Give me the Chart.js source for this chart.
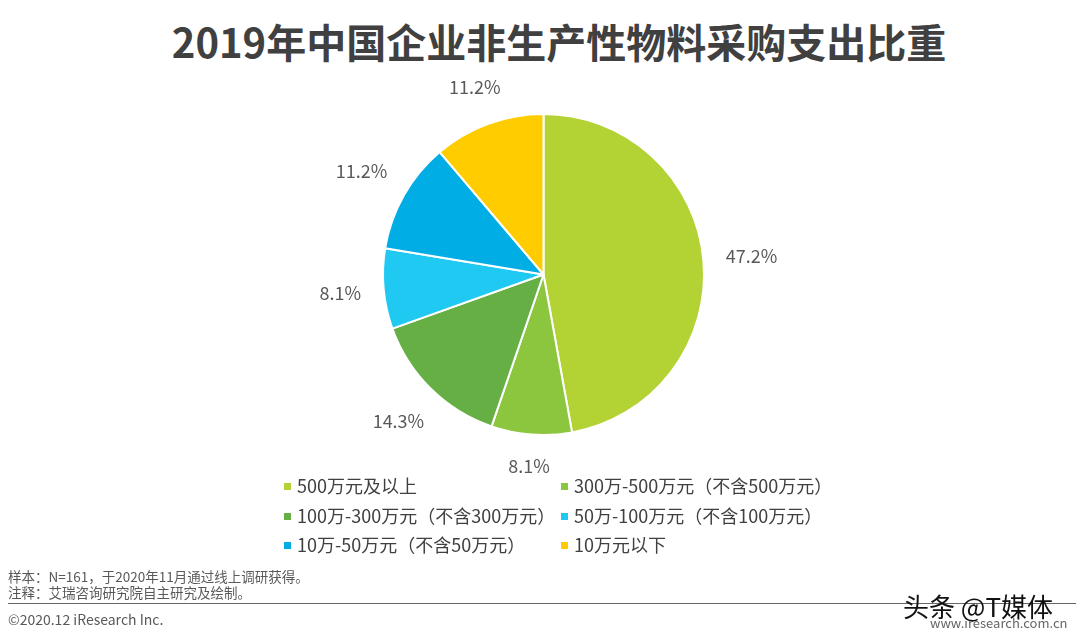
<!DOCTYPE html>
<html>
<head>
<meta charset="utf-8">
<script src="https://cdn.jsdelivr.net/npm/chart.js@4"></script>
<style>
  body { margin: 0; background: #fff; font-family: "Noto Sans CJK SC", "Noto Sans", sans-serif; }
  #wrap { position: relative; width: 1080px; height: 639px; overflow: hidden; }
  #title { position: absolute; left: 19px; top: 11px; width: 1080px; text-align: center; font-size: 40px; font-weight: bold; color: #404040; line-height: 60px; }
  #chartBox { position: absolute; left: 0; top: 0; width: 1080px; height: 639px; }
  #legend { position: absolute; left: 284px; top: 471px; width: 560px; }
  .item { position: absolute; font-size: 18px; color: #404040; white-space: nowrap; line-height: 29px; }
  .item i { display: inline-block; width: 7px; height: 7px; margin-right: 6px; vertical-align: 3px; }
  .note { position: absolute; left: 8px; font-size: 13.5px; color: #595959; }
  #rule { position: absolute; left: 8px; top: 603px; width: 1068px; height: 0; border-top: 1px solid #666; }
  #mark { position: absolute; left: 903px; top: 587px; font-size: 26px; color: #111; }
  #site { position: absolute; left: 930px; top: 613px; font-size: 13px; color: #666; }
</style>
</head>
<body>
<div id="wrap">
  <div id="title">2019年中国企业非生产性物料采购支出比重</div>
  <div id="chartBox"><canvas id="myChart"></canvas></div>
  <div id="legend"></div>
  <div class="note" style="top:566px">样本：N=161，于2020年11月通过线上调研获得。</div>
  <div class="note" style="top:582px">注释：艾瑞咨询研究院自主研究及绘制。</div>
  <div id="rule"></div>
  <div class="note" style="top:609px; font-size:14px">©2020.12 iResearch Inc.</div>
  <div id="site">www.iresearch.com.cn</div>
  <div id="mark">头条 @T媒体</div>
</div>
<script>
var categories = ["500万元及以上", "300万-500万元（不含500万元）", "100万-300万元（不含300万元）", "50万-100万元（不含100万元）", "10万-50万元（不含50万元）", "10万元以下"];
var shares = [47.2, 8.1, 14.3, 8.1, 11.2, 11.2];
var colors = ["#B3D335", "#8CC63F", "#66AF45", "#1FC9F2", "#00ADE5", "#FFCC00"];

function buildLegend() {
	var box = document.getElementById('legend');
	for (var i = 0; i < categories.length; i++) {
		var el = document.createElement('div');
		el.className = 'item';
		el.style.left = (i % 2 === 0 ? 0 : 277) + 'px';
		el.style.top = (Math.floor(i / 2) * 29.5) + 'px';
		el.innerHTML = '<i style="background:' + colors[i] + '"></i>' + categories[i];
		box.appendChild(el);
	}
}

var outsideLabels = {
	id: 'outsideLabels',
	afterDatasetsDraw: function(chart) {
		var ctx = chart.ctx;
		var meta = chart.getDatasetMeta(0);
		ctx.save();
		ctx.font = '18px "Noto Sans CJK SC", "Noto Sans", sans-serif';
		ctx.fillStyle = '#595959';
		ctx.textAlign = 'center';
		ctx.textBaseline = 'middle';
		meta.data.forEach(function(arc, i) {
			var p = arc.getProps(['x', 'y', 'startAngle', 'endAngle', 'outerRadius'], true);
			var mid = (p.startAngle + p.endAngle) / 2;
			var txt = shares[i].toFixed(1) + '%';
			var w = ctx.measureText(txt).width;
			var c = Math.cos(mid), s = Math.sin(mid);
			var d = p.outerRadius + 22 + (w / 2) * Math.abs(c) + 8.5 * Math.abs(s);
			ctx.fillText(txt, p.x + d * c, p.y + d * s);
		});
		ctx.restore();
	}
};

function loadChart() {
	var ctx = document.getElementById('myChart');
	new Chart(ctx, {
		type: 'pie',
		data: {
			labels: categories,
			datasets: [{
				data: shares,
				backgroundColor: colors,
				borderColor: '#ffffff',
				borderWidth: 2
			}]
		},
		options: {
			responsive: false,
			animation: false,
			layout: { padding: { top: 113, bottom: 203, left: 7, right: 0 } },
			plugins: {
				legend: { display: false },
				tooltip: { enabled: false }
			}
		},
		plugins: [outsideLabels]
	});
}

document.getElementById('myChart').width = 1080;
document.getElementById('myChart').height = 639;
buildLegend();
loadChart();
</script>
</body>
</html>
